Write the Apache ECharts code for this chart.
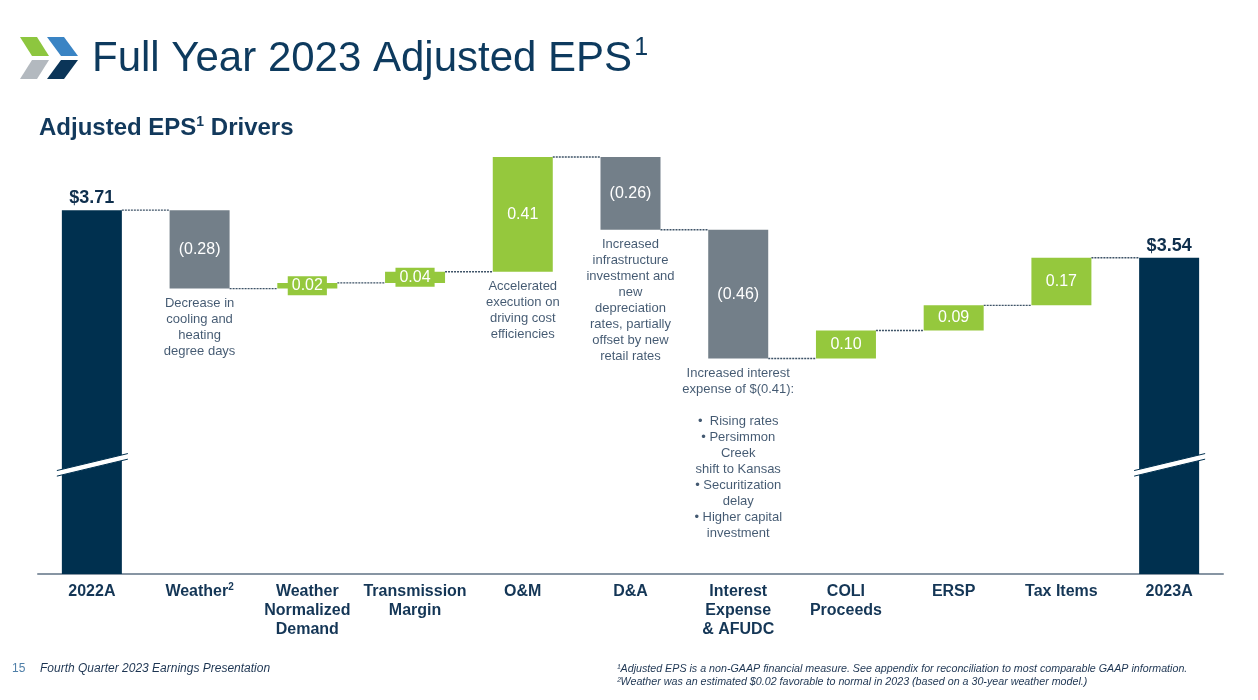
<!DOCTYPE html>
<html><head><meta charset="utf-8">
<script src="https://cdn.jsdelivr.net/npm/echarts@6/dist/echarts.min.js"></script>
<style>html,body{margin:0;padding:0;background:#fff}#c{width:1258px;height:700px}</style>
</head><body><div id="c"></div>
<script>
// ---- data ----
const categories = ['2022A','Weather','Weather Normalized Demand','Transmission Margin','O&M','D&A','Interest Expense & AFUDC','COLI Proceeds','ERSP','Tax Items','2023A'];
const axisLabels = ['2022A','Weather{sup|2}','Weather\nNormalized\nDemand','Transmission\nMargin','O&M','D&A','Interest\nExpense\n& AFUDC','COLI\nProceeds','ERSP','Tax Items','2023A'];
const values = [3.71,-0.28,0.02,0.04,0.41,-0.26,-0.46,0.10,0.09,0.17,3.54];
const isTotal = [true,false,false,false,false,false,false,false,false,false,true];
const annotations = ['',
 'Decrease in\ncooling and\nheating\ndegree days',
 '', '',
 'Accelerated\nexecution on\ndriving cost\nefficiencies',
 'Increased\ninfrastructure\ninvestment and\nnew\ndepreciation\nrates, partially\noffset by new\nretail rates',
 'Increased interest\nexpense of $(0.41):\n\n•  Rising rates\n• Persimmon\nCreek\nshift to Kansas\n• Securitization\ndelay\n• Higher capital\ninvestment',
 '', '', '', ''];
const breakLevel = 2.80;
const yMin = 2.41, yMax = 3.95;

// ---- styles ----
const NAVY = '#00304f', GRAY = '#737f89', GREEN = '#95c83d', TXT = '#143656';
const BARW = 60;
const FF = '"Liberation Sans", Arial, sans-serif';

// ---- derived ----
let run = 0;
const base = [], size = [], bottoms = [], levels = [];
values.forEach((v, i) => {
  if (isTotal[i]) { base.push(0); size.push(v); bottoms.push(0); run = v; }
  else {
    const s = run, e = Math.round((run + v) * 100) / 100;
    const lo = Math.min(s, e);
    base.push(lo); size.push(Math.abs(v)); bottoms.push(lo); run = e;
  }
  levels.push(run);
});

const deltaData = values.map((v, i) => {
  const item = { value: size[i], itemStyle: { color: isTotal[i] ? NAVY : (v < 0 ? GRAY : GREEN) } };
  if (isTotal[i]) {
    item.label = { position: 'top', distance: 3, color: '#0f2f4d', fontSize: 18, fontWeight: 'bold',
      formatter: '$' + v.toFixed(2) };
  } else if (Math.abs(v) < 0.05) {
    item.label = { backgroundColor: GREEN, padding: [2, 4, 1, 4] };
  }
  return item;
});

const annData = [];
annotations.forEach((t, i) => { if (t) annData.push({ value: [categories[i], bottoms[i]], ann: t }); });

const connData = [];
for (let i = 0; i < categories.length - 1; i++) connData.push([i, levels[i]]);

const chart = echarts.init(document.getElementById('c'), null, { renderer: 'canvas' });
chart.setOption({
  backgroundColor: '#fff',
  animation: false,
  textStyle: { fontFamily: FF },
  title: [
    { text: '{a|Full Year 2023 Adjusted EPS}{b|1}', left: 92, top: 36, padding: 0,
      textStyle: { fontWeight: 'normal', rich: {
        a: { fontSize: 42, lineHeight: 46, fontWeight: 'normal', color: '#0d3a5e', fontFamily: FF },
        b: { fontSize: 25, lineHeight: 26, fontWeight: 'normal', verticalAlign: 'top', padding: [0, 0, 0, 2], color: '#0d3a5e', fontFamily: FF } } } },
    { text: '{a|Adjusted EPS}{b|1}{a| Drivers}', left: 39, top: 115, padding: 0,
      textStyle: { rich: {
        a: { fontSize: 24, lineHeight: 27, fontWeight: 'bold', color: '#12395c', fontFamily: FF },
        b: { fontSize: 14, lineHeight: 17, fontWeight: 'bold', verticalAlign: 'top', color: '#12395c', fontFamily: FF } } } },
    { text: '15', left: 12, top: 663, padding: 0, textStyle: { fontSize: 12, fontWeight: 'normal', color: '#4f7fa8' } },
    { text: 'Fourth Quarter 2023 Earnings Presentation', left: 40, top: 663, padding: 0,
      textStyle: { fontSize: 12, fontWeight: 'normal', fontStyle: 'italic', color: '#1d3552' } },
    { text: '¹Adjusted EPS is a non-GAAP financial measure. See appendix for reconciliation to most comparable GAAP information.\n²Weather was an estimated $0.02 favorable to normal in 2023 (based on a 30-year weather model.)',
      left: 617, top: 662, padding: 0,
      textStyle: { fontSize: 10.7, lineHeight: 13.5, fontWeight: 'normal', fontStyle: 'italic', color: '#1d3552' } }
  ],
  graphic: [
    { type: 'polygon', shape: { points: [[20,37],[37,37],[49,56],[32,56]] }, style: { fill: '#8dc63f' } },
    { type: 'polygon', shape: { points: [[47,37],[64,37],[78,56],[61,56]] }, style: { fill: '#3a84c4' } },
    { type: 'polygon', shape: { points: [[32,60],[49,60],[37,79],[20,79]] }, style: { fill: '#b3b9bf' } },
    { type: 'polygon', shape: { points: [[61,60],[78,60],[64,79],[47,79]] }, style: { fill: '#0b3558' } }
  ],
  grid: { left: 38, right: 35, top: 143, bottom: 126, containLabel: false },
  xAxis: {
    type: 'category', data: categories,
    axisLine: { lineStyle: { color: '#8795a3', width: 2 } },
    axisTick: { show: false },
    axisLabel: {
      interval: 0, margin: 8, color: TXT, fontSize: 16, fontWeight: 'bold', lineHeight: 19,
      formatter: (v, i) => axisLabels[i],
      rich: { sup: { fontSize: 10, fontWeight: 'bold', color: TXT, verticalAlign: 'top', lineHeight: 14 } }
    }
  },
  yAxis: { type: 'value', min: yMin, max: yMax, show: false, splitLine: { show: false } },
  series: [
    { type: 'bar', stack: 'w', data: base, barWidth: BARW, itemStyle: { color: 'transparent' },
      emphasis: { disabled: true }, silent: true },
    { type: 'bar', stack: 'w', data: deltaData, barWidth: BARW,
      label: { show: true, position: 'inside', color: '#ffffff', fontSize: 16,
        formatter: p => { const v = values[p.dataIndex]; return v < 0 ? '(' + Math.abs(v).toFixed(2) + ')' : v.toFixed(2); } },
      emphasis: { disabled: true } },
    { type: 'custom', data: connData, z: 1, silent: true,
      renderItem: (params, api) => {
        const p = api.coord([api.value(0), api.value(1)]);
        const w = api.size([1, 0])[0];
        return { type: 'line', shape: { x1: p[0] + BARW / 2, y1: p[1], x2: p[0] + w - BARW / 2, y2: p[1] },
          style: { stroke: '#3e5367', lineWidth: 1.3, lineDash: [2, 1] } };
      } },
    { type: 'custom', data: [[0, breakLevel], [categories.length - 1, breakLevel]], z: 5, silent: true,
      renderItem: (params, api) => {
        const p = api.coord([api.value(0), api.value(1)]);
        const cx = p[0], cy = p[1], L = cx - 35, R = cx + 36, d = 8.5, t = 2.8;
        return { type: 'group', children: [
          { type: 'polygon', shape: { points: [[L, cy + d - t], [R, cy - d - t], [R, cy - d + t], [L, cy + d + t]] }, style: { fill: '#fff' } },
          { type: 'polyline', shape: { points: [[L, cy + d - t], [R, cy - d - t]] }, style: { stroke: NAVY, lineWidth: 1, fill: null } },
          { type: 'polyline', shape: { points: [[L, cy + d + t], [R, cy - d + t]] }, style: { stroke: NAVY, lineWidth: 1, fill: null } }
        ] };
      } },
    { type: 'scatter', data: annData, symbolSize: 1, itemStyle: { color: 'rgba(0,0,0,0)' }, silent: true,
      label: { show: true, position: 'bottom', distance: 6, color: '#142f4e', fontSize: 13, lineHeight: 16, align: 'center',
        formatter: p => p.data.ann } }
  ]
});
</script></body></html>
